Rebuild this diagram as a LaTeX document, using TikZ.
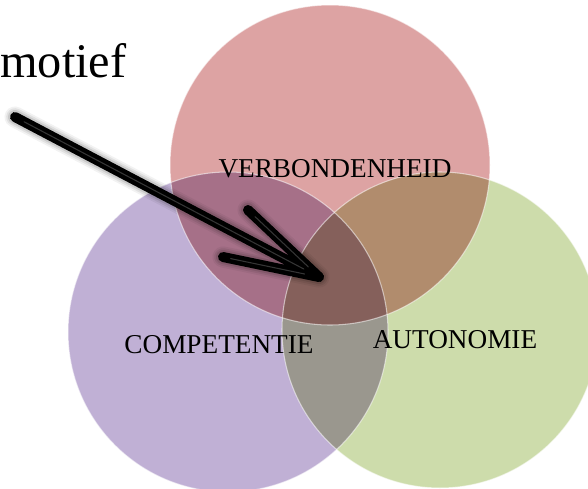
\documentclass[tikz,border=0pt]{standalone}
\usepackage{fontspec}
\setmainfont{Liberation Serif}
\usetikzlibrary{calc}
\definecolor{RelPink}{HTML}{DDA3A3}
\definecolor{CompLilac}{HTML}{C0B0D5}
\definecolor{AutoGreen}{HTML}{CDDCAB}

\begin{document}
\begin{tikzpicture}[x=0.02cm, y=0.02cm,
    lbl/.style={font=\fontsize{15.5}{18}\selectfont, anchor=base, inner sep=0pt},
    stroke/.style={line cap=round, line join=round}]
    \useasboundingbox (0,0) rectangle (588,488);

    % three circles, multiplied where they overlap
    \begin{scope}[blend mode=multiply]
        \fill[RelPink]   (330,323) circle (160);
        \fill[CompLilac] (228,156) circle (160);
        \fill[AutoGreen] (440,158) circle (158);
    \end{scope}
    % faint light rims
    \foreach \c/\r in {{330,323}/160, {228,156}/160, {440,158}/158}
        \draw[white, opacity=.55, line width=.6pt] (\c) circle (\r);

    \node[lbl] (verb) at (335,311) {VERBONDENHEID};
    \node[lbl] (comp) at (219,135) {COMPETENTIE};
    \node[lbl] (auto) at (455,140) {AUTONOMIE};

    \node[font=\fontsize{27.5}{32}\selectfont, anchor=base west, inner sep=0pt] (motief) at (0,411) {motief};

    % the arrow into the middle
    \coordinate (tail) at (15,371);
    \coordinate (tip) at (319,211);
    \coordinate (barbup) at (248,278);
    \coordinate (barblow) at (223,231);

    % soft shadow
    \begin{scope}[shift={(4,-6)}]
        \foreach \w/\o in {12/.05, 10/.07, 8/.1}
            \draw[stroke, black, opacity=\o, line width=\w pt] (tail) -- (tip) (barbup) -- (tip) -- (barblow);
    \end{scope}
    \draw[stroke, black, line width=5.7pt] (tail) -- (tip) (barbup) -- (tip) -- (barblow);
    % glossy streak
    \draw[stroke, gray!60, opacity=.3, line width=.6pt, shift={(0,1)}]
        ($(tail)!.03!(tip)$) -- ($(tail)!.95!(tip)$)
        ($(barbup)!.1!(tip)$) -- ($(barbup)!.85!(tip)$)
        ($(barblow)!.08!(tip)$) -- ($(barblow)!.85!(tip)$);
\end{tikzpicture}
\end{document}
